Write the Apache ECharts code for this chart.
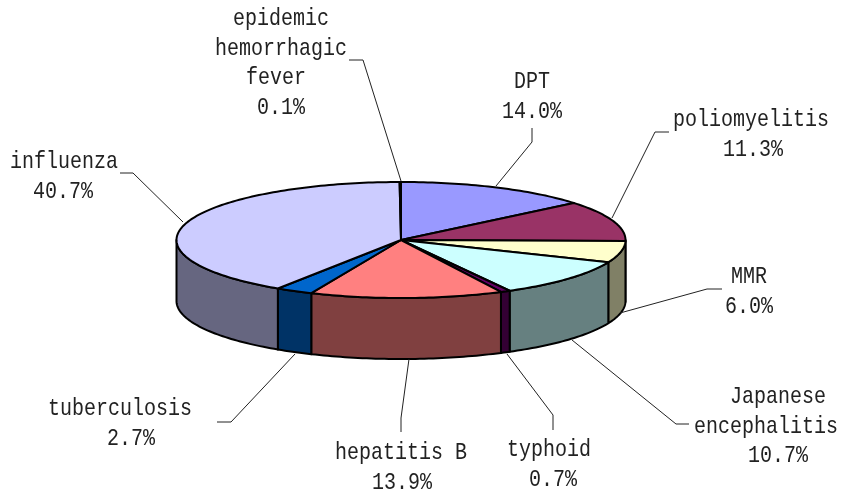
<!DOCTYPE html>
<html><head><meta charset="utf-8">
<style>html,body{margin:0;padding:0;background:#fff}#c{width:842px;height:493px}</style>
<script src="https://cdn.jsdelivr.net/npm/echarts@6/dist/echarts.min.js"></script>
</head><body><div id="c"></div>
<script>
// Data, in drawing order clockwise from 12 o'clock
const names = ['DPT','poliomyelitis','MMR','Japanese\nencephalitis','typhoid','hepatitis B','tuberculosis','influenza','epidemic\nhemorrhagic\nfever'];
const values = [14.0,11.3,6.0,10.7,0.7,13.9,2.7,40.7,0.1];
const topColors = ['#9999FF','#993366','#FFFFCC','#CCFFFF','#660066','#FF8080','#0066CC','#CCCCFF','#9999FF'];
const sideColors = ['#4C4C80','#4C1933','#808066','#668080','#330033','#804040','#003366','#666680','#4C4C80'];

// Layout (not data)
const pie = {cx:401, cy:240, rx:224.5, ry:58, depth:61};
const labelCentres = [[532,82],[751,120],[749,277],[766,397],[549,450],[401,453],[120,409],[64,162],[281,19]];
const labelLineShifts = [[0,0],[0,2],[0,0],[12,0,12],[0,4],[0,1],[0,11],[0,-1],[0,0,-5,0]];
const leaders = [
  [[496,186],[532,142],[532,128]],
  [[612,218],[655,132],[669,132]],
  [[620,313],[707,289],[722,289]],
  [[572,340],[676,424],[689,424]],
  [[507,354],[553,415],[553,430]],
  [[409,359],[401,418],[401,432]],
  [[295,354],[231,422],[217,422]],
  [[183,222],[133,173],[120,173]],
  [[401,181],[363,60],[349,60]]
];
const LH = 29.5;

const total = values.reduce((a,b)=>a+b,0);
const starts = []; let acc = 0;
values.forEach(v=>{starts.push(acc/total*Math.PI*2); acc+=v;});
const ends = values.map((v,i)=>starts[i]+v/total*Math.PI*2);
const pt = (t,dy=0)=>[pie.cx+pie.rx*Math.sin(t), pie.cy-pie.ry*Math.cos(t)+dy];
function arc(a,b,dy=0){
  const n=Math.max(2,Math.ceil((b-a)/0.02)), out=[];
  for(let i=0;i<=n;i++) out.push(pt(a+(b-a)*i/n,dy));
  return out;
}
const rows = names.map((n,i)=>[i,values[i],n]);
const line = {stroke:'#000',lineWidth:2,lineJoin:'round'};

const option = {
  animation:false,
  backgroundColor:'#fff',
  series:[
    {type:'custom',coordinateSystem:'none',silent:true,data:rows,z:1,
     renderItem(p,api){
       const i=api.value(0);
       const a=Math.max(starts[i],Math.PI/2), b=Math.min(ends[i],Math.PI*1.5);
       if(b<=a) return {type:'group',children:[]};
       const upper=arc(a,b), lower=arc(a,b,pie.depth).reverse();
       return {type:'polygon',shape:{points:upper.concat(lower)},style:Object.assign({fill:sideColors[i]},line)};
     }},
    {type:'custom',coordinateSystem:'none',silent:true,data:rows,z:2,
     renderItem(p,api){
       const i=api.value(0);
       return {type:'polygon',shape:{points:[[pie.cx,pie.cy]].concat(arc(starts[i],ends[i]))},
               style:Object.assign({fill:topColors[i]},line)};
     }},
    {type:'custom',coordinateSystem:'none',silent:true,data:rows,z:3,
     renderItem(p,api){
       const i=api.value(0);
       const lines=names[i].split('\n').concat([values[i].toFixed(1)+'%']);
       const [x,y]=labelCentres[i];
       const kids=[{type:'polyline',shape:{points:leaders[i]},style:{fill:null,stroke:'#222',lineWidth:1}}];
       lines.forEach((s,k)=>kids.push({type:'text',x:x+labelLineShifts[i][k],y:y+k*LH,scaleY:1.2,
         style:{text:s,x:0,y:0,align:'center',verticalAlign:'middle',
         font:'20px "Liberation Mono", monospace',fill:'#222'}}));
       return {type:'group',children:kids};
     }}
  ]
};
const chart = echarts.init(document.getElementById('c'),null,{renderer:'canvas'});
chart.setOption(option);
</script></body></html>
